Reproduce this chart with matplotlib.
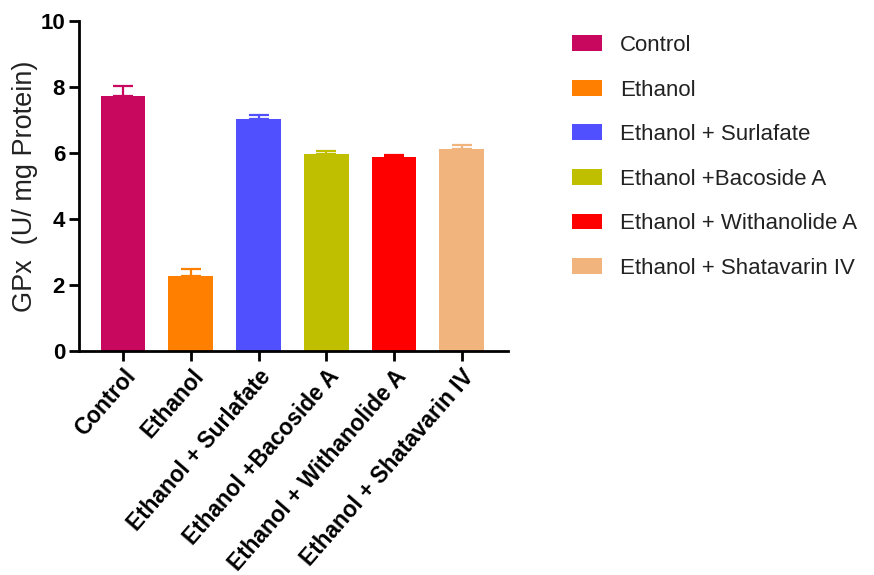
import numpy as np
import matplotlib
matplotlib.use("Agg")
import matplotlib.pyplot as plt

# Grupos de tratamiento y valores de GPx
groups = ["Control", "Ethanol", "Ethanol + Surlafate", "Ethanol +Bacoside A",
          "Ethanol + Withanolide A", "Ethanol + Shatavarin IV"]
gpx = [7.72, 2.27, 7.02, 5.97, 5.87, 6.13]
sem = [0.31, 0.21, 0.13, 0.09, 0.08, 0.12]
colors = ["#C8085F", "#FF8000", "#5050FF", "#BFBF00", "#FF0000", "#F0B47C"]

plt.rcParams["font.family"] = ["Liberation Sans", "DejaVu Sans"]

fig = plt.figure(figsize=(8.74, 5.75), dpi=100)
ax = fig.add_axes([0.0904, 0.3896, 0.4907, 0.5739])

x = np.arange(len(groups))
bars = ax.bar(x, gpx, width=0.66, color=colors, label=groups, zorder=2)
for xi, v, e, c in zip(x, gpx, sem, colors):
    ax.errorbar(xi, v, yerr=[[0], [e]], fmt="none", ecolor=c,
                elinewidth=1.6, capsize=7, capthick=1.6, zorder=3)

ax.set_xlim(-0.65, 5.68)
ax.set_ylim(0, 10)
ax.set_yticks([0, 2, 4, 6, 8, 10])
ax.set_xticks(x)
ax.set_xticklabels(groups, rotation=49, ha="right", rotation_mode="anchor",
                   fontsize=16.3, fontweight="bold")
for lbl in ax.get_yticklabels():
    lbl.set_fontsize(16)
    lbl.set_fontweight("bold")
ax.set_ylabel("GPx  (U/ mg Protein)", fontsize=19.5, color="#222222", labelpad=8)
ax.yaxis.set_label_coords(-0.095, 0.5)

for side in ["top", "right"]:
    ax.spines[side].set_visible(False)
for side in ["left", "bottom"]:
    ax.spines[side].set_linewidth(2)
ax.tick_params(axis="both", direction="out", width=2, length=7, pad=3)

fig.legend(handles=bars.patches, labels=groups, loc="upper left",
           bbox_to_anchor=(0.6545, 0.939), frameon=False, fontsize=16,
           borderpad=0, borderaxespad=0,
           handlelength=1.35, handleheight=0.72, handletextpad=0.8,
           labelspacing=1.06, labelcolor="#222222")

fig.savefig("out.png", dpi=100)
